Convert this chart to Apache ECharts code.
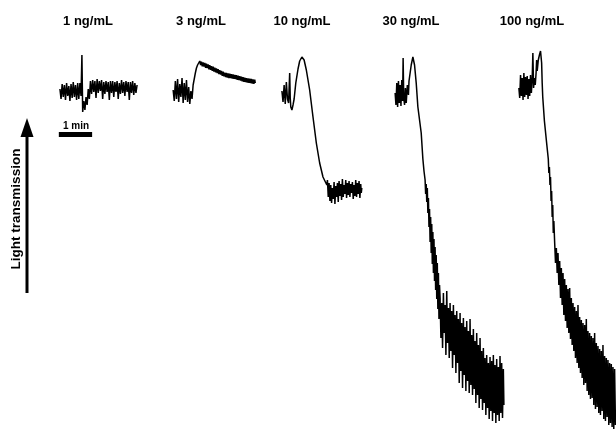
<!DOCTYPE html>
<html><head><meta charset="utf-8">
<script src="https://cdn.jsdelivr.net/npm/echarts/dist/echarts.min.js"></script>
<style>html,body{margin:0;padding:0;background:#fff}#c{width:616px;height:433px}</style>
</head><body><div id="c"></div>
<script>
// Dose labels (agonist concentration)
const doseLabels = ['1 ng/mL', '3 ng/mL', '10 ng/mL', '30 ng/mL', '100 ng/mL'];
// Start time of each recording on the shared time axis (s)
const traceStarts = [108, 312, 508, 712, 935];
// Traces: [time since start (s), light transmission change (a.u.)]
const trace1 = [[0,4],[2,-6],[4,9],[6,-4],[8,8],[10,-7],[12,10],[14,-3],[16,7],[18,-8],[20,9],[22,-5],[24,11],[26,-4],[28,8],[30,-7],[32,10],[34,-6],[36,10],[38,-3],[39.6,38],[41,-19],[43,-8],[45,-17],[47,-4],[49,-12],[51,4],[53,-6],[55,12],[57,-1],[59,13],[61,1],[63,12],[65,-5],[67,14],[69,0],[71,12],[73,2],[75,13],[77,-6],[79,11],[81,-1],[83,12],[85,1],[87,11],[89,-7],[91,12],[93,0],[95,12],[97,-4],[99,11],[101,1],[103,12],[105,-6],[107,10],[109,-1],[111,13],[113,0],[115,11],[117,-3],[119,12],[121,1],[123,11],[125,-7],[127,11],[129,0],[131,12],[133,-2],[135,10],[137,0],[139,8]];
const trace2 = [[0,3],[2,-8],[4,12],[6,-6],[8,14],[10,-9],[12,9],[14,-4],[16,15],[18,-10],[20,10],[22,-7],[24,13],[26,-9],[28,6],[30,-11],[32,2],[34,-6],[36,8],[38,14],[40,20],[42,25],[44,28],[46,30],[48,32],[49.5,27.8],[51,31.4],[52.5,26.7],[54,30.6],[55.5,26.3],[57,30],[58.5,25.2],[60,29.3],[61.5,24.8],[63,28.6],[64.5,23.6],[66,27.9],[67.5,23.2],[69,26.9],[70.5,22.1],[72,26.3],[73.5,21.4],[75,25.4],[76.5,20.6],[78,24.5],[79.5,19.8],[81,23.9],[82.5,18.8],[84,22.8],[85.5,18.3],[87,22.1],[88.5,17.2],[90,21.4],[91.5,16.6],[93,20.4],[94.5,15.9],[96,20],[97.5,15.5],[99,19.6],[100.5,15],[102,19.3],[103.5,14.8],[105,18.9],[106.5,14.3],[108,18.7],[109.5,14.1],[111,18.2],[112.5,13.8],[114,17.9],[115.5,13.2],[117,17.4],[118.5,12.8],[120,16.9],[121.5,12.3],[123,16.4],[124.5,11.7],[126,15.9],[127.5,11.2],[129,15.4],[130.5,10.8],[132,14.9],[133.5,10.5],[135,14.6],[136.5,10.1],[138,14.3],[139.5,9.8],[141,14],[142.5,9.4],[144,13.6],[145.5,9.2],[147,13.3],[148,10]];
const trace3 = [[0,2],[2,-9],[4,8],[6,-11],[8,11],[10,-6],[12,-10],[14,20],[15,-5],[16,-14],[18,-17],[20,-12],[22,-6],[25,10],[29,24],[32,32],[36,36],[40,33],[44,23],[50,3],[56,-24],[62,-50],[68,-70],[74,-84],[81,-92],[82,-87],[83.5,-104],[85,-90],[86.5,-108],[88,-92],[89.5,-110],[91,-95],[92.5,-106],[94,-89],[95.5,-111],[97,-93],[98.5,-104],[100,-90],[101.5,-109],[103,-88],[104.5,-103],[106,-91],[107.5,-107],[109,-86],[110.5,-104],[112,-92],[113.5,-101],[115,-87],[116.5,-105],[118,-90],[119.5,-102],[121,-88],[122.5,-104],[124,-91],[125.5,-100],[127,-89],[128.5,-106],[130,-92],[131.5,-103],[133,-87],[134.5,-104],[136,-90],[137.5,-101],[139,-88],[140.5,-105],[142,-91],[143,-100],[144,-95]];
const trace4 = [[0,0],[1.5,-12],[3,10],[4.5,-14],[6,12],[7.5,-10],[9,8],[10.5,-13],[12,13],[13.5,-8],[14.4,35],[15.5,-5],[17,-12],[18.5,5],[20,-10],[22,8],[24,-2],[25,12],[29,28],[32,36],[35,28],[38,10],[41,-14],[47,-40],[50,-66],[52,-78],[54,-87],[55,-101],[56,-91],[57,-109],[58,-95],[59,-120],[60,-105],[61,-134],[62,-116],[63,-149],[64,-124],[65,-160],[66,-131],[67,-171],[68,-139],[69,-180],[70,-146],[71,-188],[72,-154],[73,-197],[74,-162],[75,-206],[76,-170],[77,-216],[78,-180],[79,-226],[80,-192],[81,-205],[82.5,-245],[84,-210],[85.5,-255],[87,-200],[88.5,-240],[90,-212],[91.5,-262],[93,-198],[94.5,-250],[96,-215],[97.5,-265],[99,-210],[100.5,-258],[102,-218],[103.5,-275],[105,-212],[106.5,-262],[108,-222],[109.5,-280],[111,-218],[112.5,-270],[114,-226],[115.5,-290],[117,-220],[118.5,-278],[120,-230],[121.5,-295],[123,-225],[124.5,-282],[126,-234],[127.5,-298],[129,-228],[130.5,-288],[132,-238],[133.5,-300],[135,-226],[136.5,-292],[138,-242],[139.5,-302],[141,-236],[142.5,-296],[144,-248],[145.5,-310],[147,-240],[148.5,-302],[150,-252],[151.5,-315],[153,-245],[154.5,-306],[156,-258],[157.5,-317],[159,-255],[160.5,-310],[162,-265],[163.5,-322],[165,-262],[166.5,-315],[168,-270],[169.5,-326],[171,-264],[172.5,-318],[174,-268],[175.5,-328],[177,-262],[178.5,-320],[180,-272],[181.5,-330],[183,-266],[184.5,-322],[186,-274],[187.5,-328],[189,-263],[190.5,-320],[192,-270],[193.5,-325],[195,-276],[196,-312]];
const trace5 = [[0,5],[1.5,-5],[3,18],[4.5,-3],[6,15],[7.5,-7],[9,20],[10.5,-4],[12,16],[13.5,-2],[15,17],[16.5,-6],[18,14],[19.5,-3],[21,18],[22.5,0],[24,14],[25.2,40],[26.5,5],[28,15],[29.5,8],[31,20],[32,33],[33,22],[35,33],[37,38],[39,42],[40,43],[41,30],[42,10],[43,-4],[46,-28],[50,-50],[53,-66],[54,-80],[55,-74],[56,-92],[57,-84],[58,-108],[59,-98],[60,-124],[61,-112],[62,-140],[63,-128],[64.5,-150],[66,-170],[67.5,-155],[69,-180],[70.5,-160],[72,-192],[73.5,-168],[75,-205],[76.5,-175],[78,-212],[79.5,-180],[81,-222],[82.5,-186],[84,-228],[85.5,-192],[87,-235],[88.5,-196],[90,-240],[91.5,-195],[93,-246],[94.5,-205],[96,-252],[97.5,-210],[99,-258],[100.5,-214],[102,-265],[103.5,-218],[105,-270],[106.5,-212],[108,-275],[109.5,-224],[111,-280],[112.5,-227],[114,-285],[115.5,-230],[117,-292],[118.5,-232],[120,-290],[121.5,-226],[123,-298],[124.5,-238],[126,-302],[127.5,-240],[129,-306],[130.5,-243],[132,-305],[133.5,-245],[135,-312],[136.5,-240],[138,-316],[139.5,-250],[141,-314],[142.5,-253],[144,-320],[145.5,-256],[147,-322],[148.5,-258],[150,-318],[151.5,-252],[153,-326],[154.5,-263],[156,-328],[157.5,-265],[159,-324],[160.5,-267],[162,-332],[163.5,-270],[165,-330],[166.5,-271],[168,-334],[169.5,-274],[171,-336],[172.5,-276],[174,-332]];
// 1-min scale bar: [start s, end s], level (a.u.)
const scaleBarTimes = [106, 166];
const scaleBarLevel = -41.5;
const scaleBarLabel = '1 min';
const axisLabel = 'Light transmission';

const traces = [trace1, trace2, trace3, trace4, trace5];
const chart = echarts.init(document.getElementById('c'), null, {renderer: 'canvas'});
const series = traces.map((tr, i) => ({
  type: 'line', symbol: 'none', animation: false, silent: true,
  data: tr.map(p => [p[0] + traceStarts[i], p[1]]),
  lineStyle: {color: '#000', width: 1.5, join: 'bevel'}
}));
series.push({
  type: 'line', symbol: 'none', animation: false, silent: true,
  data: scaleBarTimes.map(t => [t, scaleBarLevel]),
  lineStyle: {color: '#000', width: 5, cap: 'butt'}
});
const labelX = [88, 201, 302, 411, 532];
const FONT = '"Liberation Sans", Arial, sans-serif';
const graphics = doseLabels.map((s, i) => ({
  type: 'text', x: labelX[i], y: 21,
  style: {text: s, font: 'bold 13px ' + FONT, fill: '#000', align: 'center', verticalAlign: 'middle'}
}));
graphics.push({type: 'text', x: 76, y: 126, style: {text: scaleBarLabel, font: 'bold 10px ' + FONT, fill: '#000', align: 'center', verticalAlign: 'middle'}});
graphics.push({type: 'text', x: 16, y: 209, rotation: Math.PI / 2, style: {text: axisLabel, font: 'bold 13.5px ' + FONT, fill: '#000', align: 'center', verticalAlign: 'middle'}});
graphics.push({type: 'rect', shape: {x: 25.5, y: 130, width: 3, height: 163}, style: {fill: '#000'}});
graphics.push({type: 'polygon', shape: {points: [[27, 118], [20.5, 137], [33.5, 137]]}, style: {fill: '#000'}});

chart.setOption({
  animation: false,
  backgroundColor: '#fff',
  grid: {left: 0, right: 0, top: 0, bottom: 0},
  xAxis: {type: 'value', min: 0, max: 1110, show: false},
  yAxis: {type: 'value', min: -340, max: 93, show: false},
  series: series,
  graphic: graphics
});
</script>
</body></html>
